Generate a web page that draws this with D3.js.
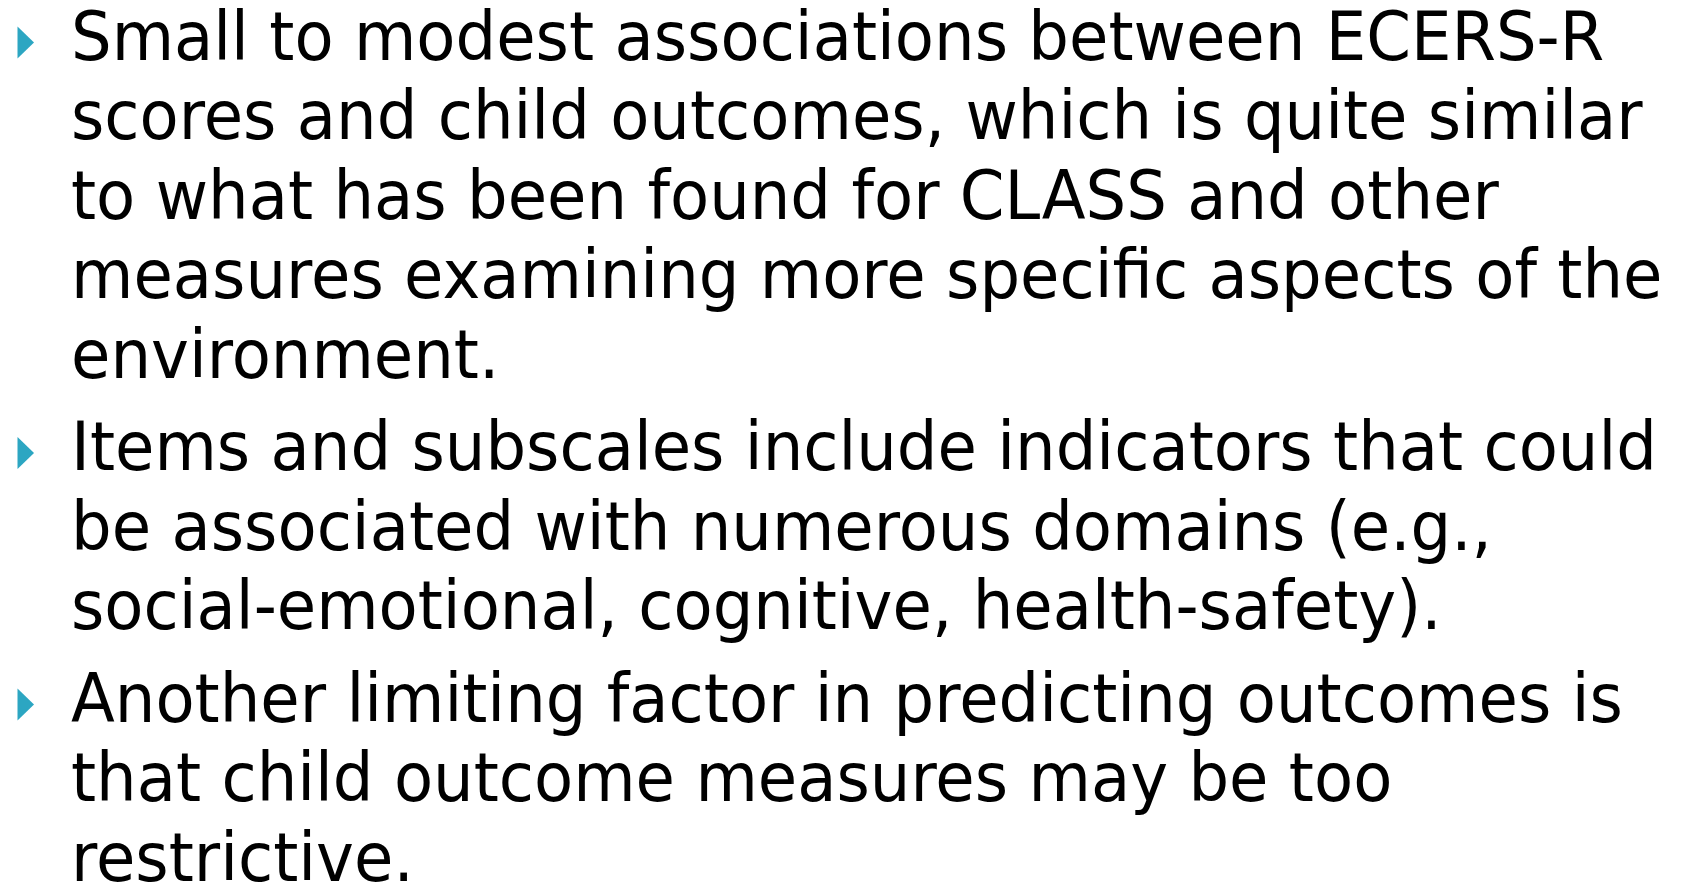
<!DOCTYPE html>
<html>
<head>
<meta charset="utf-8">
<script src="https://cdn.jsdelivr.net/npm/d3@7"></script>
<style>
  html, body { margin: 0; padding: 0; background: #ffffff; }
  svg { display: block; }
</style>
</head>
<body>
<svg id="slide" width="1684" height="884"></svg>
<script>
// ---- content ----
const bullet1 = [
  "Small to modest associations between ECERS-R",
  "scores and child outcomes, which is quite similar",
  "to what has been found for CLASS and other",
  "measures examining more specific aspects of the",
  "environment."
];
const bullet2 = [
  "Items and subscales include indicators that could",
  "be associated with numerous domains (e.g.,",
  "social-emotional, cognitive, health-safety)."
];
const bullet3 = [
  "Another limiting factor in predicting outcomes is",
  "that child outcome measures may be too",
  "restrictive."
];
const bullets = [bullet1, bullet2, bullet3];

// ---- layout ----
const textX = 71;
const firstBaseline = 60;
const lineStep = 79.5;
const paraExtra = 13;
const fontSize = 68;
const fitWidth = 1592; // width of the longest line in the reference
const bulletColor = "#2ca6c2";

const svg = d3.select("#slide");

// flatten lines with their paragraph index
const lines = [];
bullets.forEach((b, p) => b.forEach((t, i) => lines.push({ text: t, para: p, first: i === 0 })));
lines.forEach((d, i) => { d.idx = i; });

const y = d3.scaleLinear().domain([0, 1]).range([firstBaseline, firstBaseline + lineStep]);
const baseline = d => y(d.idx) + d.para * paraExtra;

const g = svg.append("g");
const texts = g.selectAll("text.line")
  .data(lines)
  .join("text")
  .attr("class", "line")
  .attr("x", 0)
  .attr("y", baseline)
  .attr("font-family", "'DejaVu Sans', 'Noto Sans', sans-serif")
  .attr("font-size", fontSize)
  .attr("fill", "#000")
  .text(d => d.text);

// horizontal fit: condense the block to the reference line width
let maxW = 0;
texts.each(function () { maxW = Math.max(maxW, this.getComputedTextLength()); });
const k = fitWidth / maxW;
g.attr("transform", `translate(${textX},0) scale(${k},1)`);

// bullets (triangles)
const tri = d3.line();
svg.selectAll("path.bullet")
  .data(lines.filter(d => d.first))
  .join("path")
  .attr("class", "bullet")
  .attr("fill", bulletColor)
  .attr("d", d => {
    const b = baseline(d);
    return tri([[17.5, b - 33.5], [34, b - 17.5], [17.5, b - 1.5]]) + "Z";
  });
</script>
</body>
</html>
